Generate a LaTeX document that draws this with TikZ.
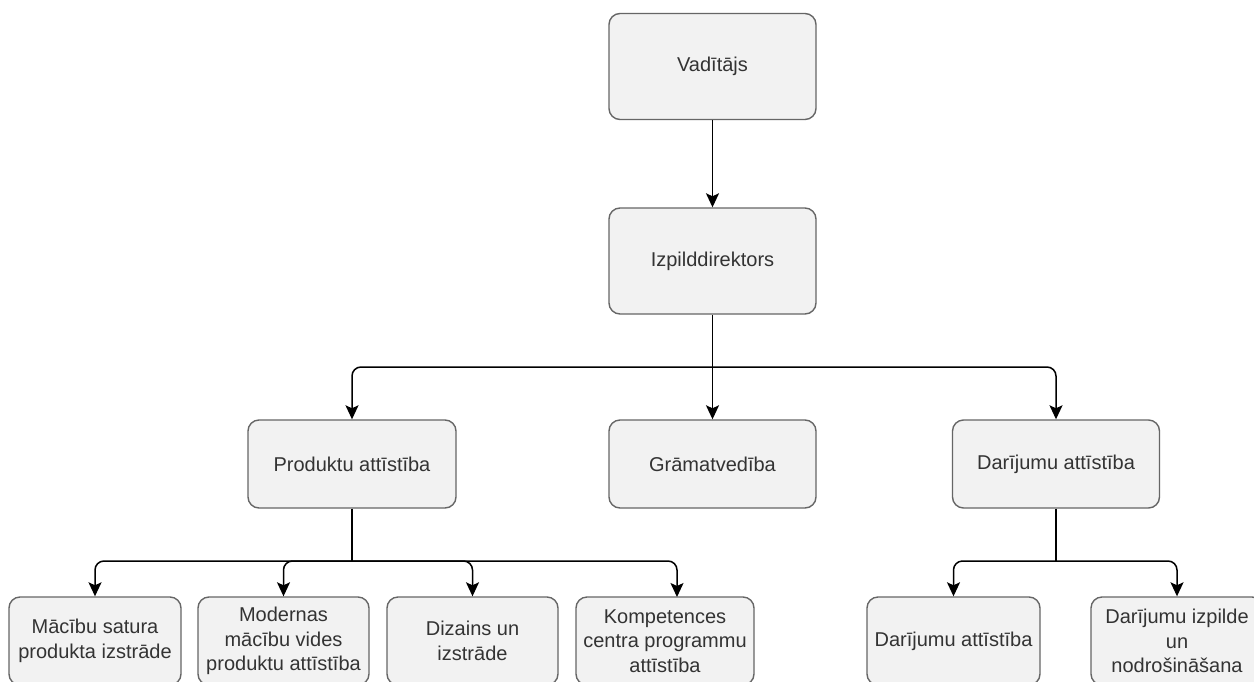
\documentclass[tikz,border=0pt]{standalone}
\usepackage{fontspec}
\setmainfont{Liberation Sans}
\usetikzlibrary{arrows.meta}
\definecolor{boxfill}{HTML}{F2F2F2}
\definecolor{boxline}{HTML}{666666}
\definecolor{boxtext}{HTML}{333333}
\tikzset{
  orgbox/.style={draw=boxline, fill=boxfill, line width=1.4pt, rounded corners=11pt,
    text=boxtext, align=center, inner sep=0pt,
    font=\fontsize{20}{24.5}\selectfont},
  conn/.style={draw=black, line width=1.5pt, rounded corners=9pt,
    -{Stealth[length=14pt, width=13pt, inset=3pt]}},
  plain/.style={draw=black, line width=1.5pt},
}
\begin{document}
\begin{tikzpicture}[x=1pt, y=-1pt]
\clip (0,0) rectangle (1254,681);
\fill[white] (0,0) rectangle (1254,681);
% top
\node[orgbox, minimum width=207pt, minimum height=106pt] (vad) at (712.5,66.5) {Vadītājs};
\node[orgbox, minimum width=207pt, minimum height=106pt] (izp) at (712.5,261) {Izpilddirektors};
% middle
\node[orgbox, minimum width=208pt, minimum height=88pt] (prod) at (352,464) {Produktu attīstība};
\node[orgbox, minimum width=207pt, minimum height=88pt] (gram) at (712.5,464) {Grāmatvedība};
\node[orgbox, minimum width=207pt, minimum height=88pt] (dar) at (1056,464) {Darījumu attīstība};
% bottom
\node[orgbox, minimum width=172pt, minimum height=88pt] (m1) at (95,641) {Mācību satura\\produkta izstrāde};
\node[orgbox, minimum width=171pt, minimum height=88pt] (m2) at (283.5,641) {Modernas\\mācību vides\\produktu attīstība};
\node[orgbox, minimum width=171pt, minimum height=88pt] (m3) at (472.5,641) {Dizains un\\izstrāde};
\node[orgbox, minimum width=178pt, minimum height=88pt] (m4) at (665,641) {Kompetences\\centra programmu\\attīstība};
\node[orgbox, minimum width=173pt, minimum height=88pt] (d1) at (953.5,641) {Darījumu attīstība};
\node[orgbox, minimum width=172pt, minimum height=88pt] (d2) at (1177,641) {Darījumu izpilde\\un\\nodrošināšana};
% junctions
\coordinate (jt) at (712.5,367);
\coordinate (jp) at (352,561);
\coordinate (jd) at (1056,561);
\coordinate (m4in) at (677,597);
% connectors
\draw[conn] (vad.south) -- (izp.south |- izp.north);
\draw[conn] (izp.south) -- (gram.north);
\draw[conn] (jt) -| (prod.north);
\draw[conn] (jt) -| (dar.north);
\draw[plain] (prod.south) -- (jp);
\draw[conn] (jp) -| (m1.north);
\draw[conn] (jp) -| (m2.north);
\draw[conn] (jp) -| (m3.north);
\draw[conn] (jp) -| (m4in);
\draw[plain] (dar.south) -- (jd);
\draw[conn] (jd) -| (d1.north);
\draw[conn] (jd) -| (d2.north);
\end{tikzpicture}
\end{document}
